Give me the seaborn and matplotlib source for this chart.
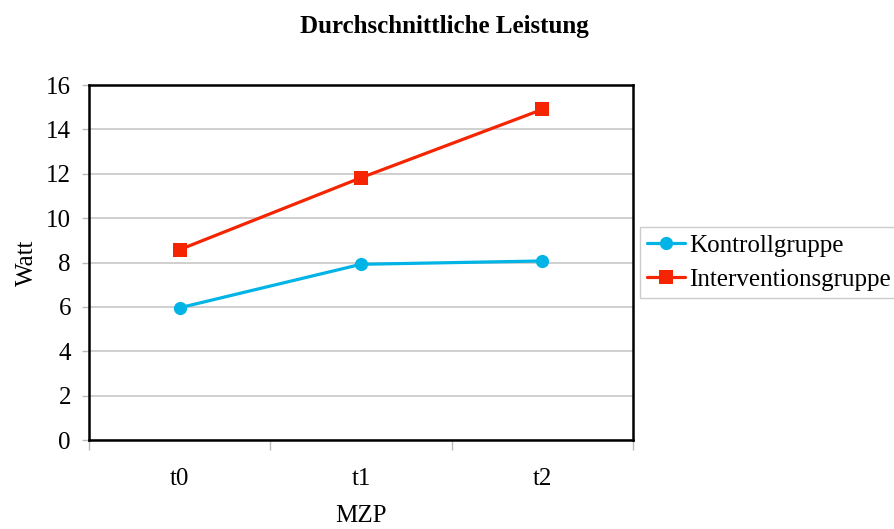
import matplotlib
matplotlib.use("Agg")
import matplotlib.pyplot as plt
import seaborn as sns
import pandas as pd

# Measurement points and mean performance (Watt) per group
zeitpunkte = ["t0", "t1", "t2"]
kontrollgruppe = [5.96, 7.92, 8.07]
interventionsgruppe = [8.58, 11.82, 14.90]
gruppen = ["Kontrollgruppe", "Interventionsgruppe"]
farben = {"Kontrollgruppe": "#00B4E6", "Interventionsgruppe": "#F42500"}
marker = {"Kontrollgruppe": "o", "Interventionsgruppe": "s"}

df = pd.DataFrame({
    "MZP": zeitpunkte * 2,
    "Watt": kontrollgruppe + interventionsgruppe,
    "Gruppe": [gruppen[0]] * 3 + [gruppen[1]] * 3,
})

sns.set_theme(style="white")
plt.rcParams["font.family"] = ["Liberation Serif", "DejaVu Serif"]
plt.rcParams["text.color"] = "black"

fs = 18

fig = plt.figure(figsize=(8.95, 5.29), dpi=100)
ax = fig.add_axes([0.0994, 0.1682, 0.6079, 0.6711])

sns.lineplot(
    data=df, x="MZP", y="Watt", hue="Gruppe", style="Gruppe",
    palette=farben, markers=marker, dashes=False, linewidth=2.3,
    markersize=9.5, markeredgewidth=0, ax=ax, sort=False,
)

ax.set_xlim(-0.5, 2.5)
ax.set_ylim(0, 16)
ax.set_yticks(range(0, 17, 2))
ax.set_xticks([0, 1, 2])
ax.set_xticks([-0.5, 0.5, 1.5, 2.5], minor=True)
ax.yaxis.grid(True, color="#CCCCCC", linewidth=1.3)
ax.set_axisbelow(True)

for s in ax.spines.values():
    s.set_color("black")
    s.set_linewidth(1.8)

ax.tick_params(axis="y", which="major", left=True, length=5, width=1,
               color="#BBBBBB", labelsize=fs, pad=8, labelcolor="black")
ax.tick_params(axis="x", which="major", bottom=False, length=0,
               labelsize=fs, pad=20, labelcolor="black")
ax.tick_params(axis="x", which="minor", bottom=True, length=7, width=1,
               color="#BBBBBB")

ax.set_xlabel("MZP", fontsize=fs, labelpad=11, color="black")
ax.set_ylabel("Watt", fontsize=fs, labelpad=6, color="black")

fig.suptitle("Durchschnittliche Leistung", fontsize=fs, fontweight="bold",
             y=0.972, x=0.497, color="black")

leg = ax.legend(
    loc="center left", bbox_to_anchor=(1.012, 0.5), fontsize=fs,
    frameon=True, fancybox=False, edgecolor="#CCCCCC", framealpha=1,
    handlelength=1.5, handletextpad=0.2, borderpad=0.3, labelspacing=0.45,
    borderaxespad=0,
)
leg.get_frame().set_linewidth(1.0)
for t in leg.get_texts():
    t.set_color("black")

fig.savefig("out.png", dpi=100)
